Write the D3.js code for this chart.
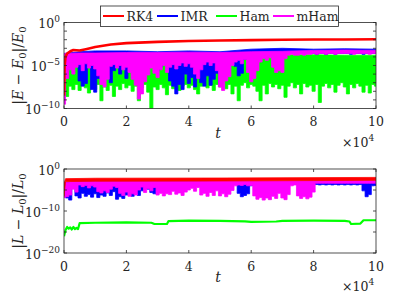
<!DOCTYPE html>
<html>
<head>
<meta charset="utf-8">
<script src="https://cdn.jsdelivr.net/npm/d3@7"></script>
<style>
  body { margin: 0; background: #fff; }
  svg { display: block; }
  svg text { font-family: "DejaVu Serif", serif; fill: #262626; }
</style>
</head>
<body>
<svg id="chart" width="415" height="306"></svg>
<script>
// time grid for the dense (noisy) lower envelopes, in units of 10^4
const tFine = d3.range(0, 101).map(i => i / 10);

// ---- top panel: |E - E0|/E0 (log10 exponents) ----
const redT1 = [0, 0.02, 0.05, 0.1, 0.2, 0.3, 0.5, 0.7, 1, 1.5, 2, 3, 4, 5, 6, 7, 8, 9, 10];
const redE1 = [-8.5, -5, -4, -3.6, -3.35, -3.2, -3.25, -3.1, -2.85, -2.55, -2.4, -2.25, -2.15, -2.1, -2.05, -2.0, -1.98, -1.97, -1.95];

const topT = [0, 0.5, 1, 2, 3, 4, 5, 6, 7, 8, 9, 10];
const imrTop1 = [-3.6, -3.4, -3.3, -3.3, -3.4, -3.3, -3.4, -3.1, -3.0, -3.1, -3.05, -3.1];
const hamTop1 = [-3.8, -3.6, -3.6, -3.6, -3.65, -3.65, -3.7, -3.7, -3.75, -3.75, -3.8, -3.8];
const mhamTop1 = [-3.6, -3.55, -3.55, -3.5, -3.5, -3.45, -3.5, -3.4, -3.35, -3.25, -3.2, -3.25];

const imrLow1 = [
  -4.0, -4.2, -4.0, -4.3, -4.1, -6.8, -7.4, -7.1, -4.6, -7.8,
  -8.1, -6.5, -4.4, -4.8, -6.2, -7.0, -5.6, -4.5, -6.0, -4.3,
  -6.5, -4.2, -4.6, -4.1, -4.3, -4.0, -4.4, -4.2, -5.0, -4.3,
  -5.6, -5.2, -4.3, -4.1, -6.8, -7.4, -8.3, -7.2, -7.8, -6.0,
  -7.1, -6.4, -7.5, -5.8, -7.0, -7.4, -6.2, -7.3, -6.6, -5.9,
  -7.2, -6.0, -4.5, -4.2, -4.1, -5.1, -6.2, -5.9, -4.3, -4.2,
  -3.7, -3.6, -3.7, -3.6, -3.5, -3.6, -3.5, -3.6, -3.5, -3.6,
  -3.5, -3.6, -3.5, -3.6, -3.6, -3.5, -3.6, -3.5, -3.6, -3.6,
  -3.6, -3.7, -3.6, -3.6, -3.7, -3.6, -3.6, -3.7, -3.6, -3.6,
  -3.6, -3.6, -3.7, -3.6, -3.6, -3.6, -3.7, -3.6, -3.6, -3.6, -3.6
];
const hamLow1 = [
  -8.0, -8.6, -7.4, -7.8, -7.2, -7.9, -7.3, -7.6, -8.2, -7.4,
  -7.8, -7.2, -9.1, -7.5, -7.9, -7.3, -8.6, -7.4, -7.8, -7.1,
  -7.6, -7.3, -8.0, -7.4, -9.1, -7.6, -7.2, -8.1, -10.0, -7.5,
  -7.8, -7.2, -7.6, -8.4, -7.3, -7.7, -7.1, -7.9, -7.4, -7.2,
  -7.6, -7.3, -7.8, -8.3, -7.4, -7.1, -7.6, -7.3, -7.9, -7.2,
  -7.5, -7.1, -7.7, -7.2, -8.3, -7.4, -9.1, -7.3, -7.0, -7.6,
  -7.2, -7.4, -8.0, -9.1, -7.3, -8.3, -7.1, -7.5, -7.2, -7.7,
  -7.3, -8.7, -7.4, -7.0, -7.6, -7.2, -8.3, -7.1, -7.5, -7.3,
  -8.0, -7.2, -9.3, -7.4, -7.1, -7.6, -7.2, -8.1, -7.3, -7.0,
  -7.5, -8.3, -7.2, -7.6, -7.1, -7.4, -8.1, -7.3, -8.2, -7.2, -7.4
];
const mhamLow1 = [
  -9.5, -6.5, -5.5, -6.0, -5.2, -4.9, -5.6, -4.8, -5.3, -5.0,
  -5.4, -6.2, -7.2, -7.5, -6.6, -5.1, -4.9, -5.3, -5.0, -5.5,
  -5.2, -5.8, -6.6, -7.3, -8.9, -8.3, -6.9, -6.1, -5.3, -5.9,
  -6.4, -5.5, -5.0, -5.8, -5.2, -4.9, -5.4, -5.0, -4.7, -5.1,
  -4.8, -5.2, -6.0, -6.5, -5.5, -4.9, -4.6, -5.0, -4.7, -5.6,
  -7.5, -7.9, -6.8, -6.3, -5.0, -4.6, -4.4, -4.8, -4.3, -5.8,
  -6.9, -6.5, -5.6, -4.6, -4.2, -4.4, -4.1, -5.2, -5.8, -5.6,
  -5.8, -4.2, -3.8, -3.7, -3.8, -3.8, -3.7, -3.8, -3.7, -3.7,
  -3.6, -3.7, -3.6, -3.6, -3.7, -3.6, -3.6, -3.7, -3.6, -3.6,
  -3.6, -3.6, -3.6, -3.7, -3.6, -3.6, -3.6, -3.6, -3.7, -3.6, -3.6
];

// ---- bottom panel: |L - L0|/L0 (log10 exponents) ----
const redT2 = [0, 0.05, 1, 5, 10];
const redTop2 = [-3.5, -2.3, -2.2, -2.15, -2.0];
const redLow2 = [-6.5, -3.0, -2.9, -2.85, -2.7];

const imrTop2 = [-3.2, -3.0, -3.0, -3.0, -3.0, -3.0, -3.0, -3.0, -3.0, -2.95, -2.9, -2.9];
const mhamTop2 = [-3.2, -2.9, -2.9, -2.9, -2.9, -2.9, -2.85, -2.85, -2.85, -2.8, -2.8, -2.8];

const imrLow2 = [
  -4.0, -6.9, -7.4, -4.5, -6.4, -6.9, -5.8, -6.5, -6.1, -6.7,
  -5.9, -6.8, -6.2, -6.5, -5.7, -6.3, -5.4, -7.2, -6.6, -7.0,
  -6.2, -5.6, -6.5, -5.9, -6.3, -5.2, -4.4, -4.8, -5.6, -5.9,
  -5.3, -3.7, -3.6, -3.7, -3.6, -3.7, -3.6, -3.6, -3.7, -3.6,
  -3.6, -3.7, -3.6, -3.6, -3.7, -3.6, -3.6, -3.7, -3.6, -3.6,
  -3.6, -3.7, -3.6, -3.6, -3.7, -3.6, -5.8, -6.6, -6.3, -5.9,
  -4.0, -3.7, -3.6, -3.7, -3.6, -3.7, -3.6, -3.6, -3.7, -3.6,
  -3.7, -3.6, -3.6, -3.7, -3.6, -3.7, -3.6, -3.6, -3.7, -3.6,
  -3.8, -3.7, -3.8, -3.7, -3.8, -3.7, -3.8, -3.7, -3.8, -3.7,
  -3.8, -3.7, -3.8, -3.7, -3.8, -3.7, -5.2, -6.6, -6.1, -4.0, -3.9
];
const mhamLow2 = [
  -6.8, -6.6, -6.2, -4.8, -5.5, -3.8, -4.2, -3.9, -4.5, -4.0,
  -4.3, -5.4, -5.7, -5.2, -5.6, -4.8, -4.1, -4.4, -5.8, -6.3,
  -5.5, -6.5, -5.9, -6.2, -5.0, -4.3, -5.6, -4.7, -5.2, -4.4,
  -6.2, -5.8, -6.4, -5.9, -6.1, -5.3, -6.0, -5.7, -6.3, -5.5,
  -5.0, -4.6, -5.3, -4.4, -6.2, -5.8, -6.5, -5.6, -6.3, -5.2,
  -6.4, -5.9, -6.6, -6.0, -5.1, -4.0, -3.8, -3.9, -3.7, -4.0,
  -3.9, -6.4, -7.2, -6.8, -7.4, -6.9, -7.3, -6.5, -7.0, -5.8,
  -6.9, -7.3, -6.1, -4.0, -3.8, -6.4, -7.0, -6.6, -7.1, -6.7,
  -5.5, -3.4, -3.4, -3.4, -3.4, -3.4, -3.4, -3.4, -3.4, -3.4,
  -3.4, -3.4, -3.4, -3.4, -3.4, -3.4, -3.4, -3.4, -3.4, -3.4, -3.4
];

const hamT2 = [0, 0.05, 0.1, 0.15, 0.2, 0.25, 0.3, 0.35, 0.4, 0.45, 0.5, 1, 2, 2.8, 2.9, 3.3, 3.35, 4, 5, 5.8, 6.0, 6.8, 7.0, 8, 9, 9.15, 9.2, 9.5, 9.6, 10];
const hamE2 = [-16, -14.5, -13.8, -14.2, -13.9, -14.4, -13.8, -14.3, -14.0, -14.3, -12.9, -12.8, -12.7, -12.8, -13.1, -13.1, -12.4, -12.3, -12.35, -12.45, -12.6, -12.5, -12.35, -12.3, -12.35, -12.5, -13.1, -13.0, -12.2, -12.2];

const legendNames = ['RK4', 'IMR', 'Ham', 'mHam'];
const colors = { RK4: '#ff0000', IMR: '#0000ff', Ham: '#00ff00', mHam: '#ff00ff' };

const svg = d3.select('#chart');
const x = d3.scaleLinear().domain([0, 10]).range([64, 376]);
const p10 = e => Math.pow(10, e);
const AXC = '#262626';

function panel(cfg) {
  const y = d3.scaleLog().domain([p10(cfg.minE), 1]).range([cfg.y1, cfg.y0]);
  const g = svg.append('g');
  const clipId = 'clip-' + cfg.id;
  g.append('clipPath').attr('id', clipId)
    .append('rect').attr('x', 64).attr('y', cfg.y0).attr('width', 312).attr('height', cfg.y1 - cfg.y0);
  const plot = g.append('g').attr('clip-path', `url(#${clipId})`);

  const line = d3.line().x(d => x(d[0])).y(d => y(p10(d[1])));
  const stepLine = d3.line().x(d => x(d[0])).y(d => y(p10(d[1]))).curve(d3.curveStep);

  // band: upper edge forward (linear), noisy lower edge backward (step)
  function band(tTop, top, tLow, low, color, stepped) {
    const up = tTop.map((t, i) => [t, top[i]]);
    const dn = tLow.map((t, i) => [t, low[i]]).reverse();
    const d = line(up) + (stepped ? stepLine(dn) : line(dn)).replace(/^M/, 'L') + 'Z';
    plot.append('path')
      .attr('d', d)
      .attr('fill', color)
      .attr('stroke', color)
      .attr('stroke-width', 0.8);
  }
  function curve(ts, es, color, w) {
    plot.append('path')
      .attr('d', line(ts.map((t, i) => [t, es[i]])))
      .attr('fill', 'none')
      .attr('stroke', color)
      .attr('stroke-width', w)
      .attr('stroke-linejoin', 'round');
  }
  cfg.draw(band, curve);

  // box
  g.append('rect').attr('x', 64).attr('y', cfg.y0).attr('width', 312).attr('height', cfg.y1 - cfg.y0)
    .attr('fill', 'none').attr('stroke', AXC).attr('stroke-width', 0.8);

  // x ticks
  d3.range(0, 11, 2).forEach(v => {
    g.append('line').attr('x1', x(v)).attr('x2', x(v)).attr('y1', cfg.y1).attr('y2', cfg.y1 - 3)
      .attr('stroke', AXC).attr('stroke-width', 0.8);
    g.append('line').attr('x1', x(v)).attr('x2', x(v)).attr('y1', cfg.y0).attr('y2', cfg.y0 + 3)
      .attr('stroke', AXC).attr('stroke-width', 0.8);
    g.append('text').attr('x', x(v)).attr('y', cfg.y1 + 17.5).attr('text-anchor', 'middle')
      .attr('font-size', 12.5).text(v);
  });

  // y ticks
  d3.range(cfg.minE, 1, cfg.tickStep).forEach(e => {
    const yy = y(p10(e));
    g.append('line').attr('x1', 64).attr('x2', 67).attr('y1', yy).attr('y2', yy)
      .attr('stroke', AXC).attr('stroke-width', 0.8);
    g.append('line').attr('x1', 376).attr('x2', 373).attr('y1', yy).attr('y2', yy)
      .attr('stroke', AXC).attr('stroke-width', 0.8);
  });
  cfg.labels.forEach(e => {
    const yy = y(p10(e));
    const t = g.append('text').attr('x', 60).attr('y', yy + 5.5).attr('text-anchor', 'end').attr('font-size', 12.5);
    t.append('tspan').text('10');
    t.append('tspan').attr('dy', -6).attr('font-size', 9).text(e === 0 ? '0' : '\u2212' + (-e));
  });

  // x label and multiplier
  g.append('text').attr('x', 218).attr('y', cfg.y1 + 29).attr('text-anchor', 'middle')
    .attr('font-size', 14).attr('font-style', 'italic').text('t');
  const m = g.append('text').attr('x', 342).attr('y', cfg.y1 + 38).attr('font-size', 12.5);
  m.append('tspan').text('\u00d710');
  m.append('tspan').attr('dy', -6).attr('font-size', 9).text('4');

  // y label
  const yl = g.append('text')
    .attr('transform', `translate(23,${(cfg.y0 + cfg.y1) / 2}) rotate(-90)`)
    .attr('text-anchor', 'middle').attr('font-size', 14);
  const s = cfg.sym;
  yl.append('tspan').text('|');
  yl.append('tspan').attr('font-style', 'italic').text(s);
  yl.append('tspan').text(' \u2212 ');
  yl.append('tspan').attr('font-style', 'italic').text(s);
  yl.append('tspan').attr('dy', 3).attr('font-size', 10).text('0');
  yl.append('tspan').attr('dy', -3).text('|/');
  yl.append('tspan').attr('font-style', 'italic').text(s);
  yl.append('tspan').attr('dy', 3).attr('font-size', 10).text('0');
}

panel({
  id: 'E', y0: 22.5, y1: 108.5, minE: -10, tickStep: 1, labels: [0, -5, -10], sym: 'E',
  draw(band, curve) {
    band(topT, hamTop1, tFine, hamLow1, colors.Ham, true);
    band(topT, imrTop1, tFine, imrLow1, colors.IMR, true);
    band(topT, mhamTop1, tFine, mhamLow1, colors.mHam, true);
    curve(redT1, redE1, colors.RK4, 2.6);
  }
});

panel({
  id: 'L', y0: 169, y1: 253, minE: -20, tickStep: 5, labels: [0, -10, -20], sym: 'L',
  draw(band, curve) {
    band(topT, imrTop2, tFine, imrLow2, colors.IMR, true);
    band(topT, mhamTop2, tFine, mhamLow2, colors.mHam, true);
    curve(hamT2, hamE2, colors.Ham, 2.2);
    band(redT2, redTop2, redT2, redLow2, colors.RK4, false);
  }
});

// legend
const legX = [103, 157, 216, 273];
const lg = svg.append('g');
lg.append('rect').attr('x', 100.5).attr('y', 6).attr('width', 238).attr('height', 20.5)
  .attr('fill', '#fff').attr('stroke', AXC).attr('stroke-width', 0.8);
legendNames.forEach((n, i) => {
  lg.append('line').attr('x1', legX[i]).attr('x2', legX[i] + 21).attr('y1', 16).attr('y2', 16)
    .attr('stroke', colors[n]).attr('stroke-width', 2);
  lg.append('text').attr('x', legX[i] + 23.5).attr('y', 20.5).attr('font-size', 12.5).text(n);
});
</script>
</body>
</html>
